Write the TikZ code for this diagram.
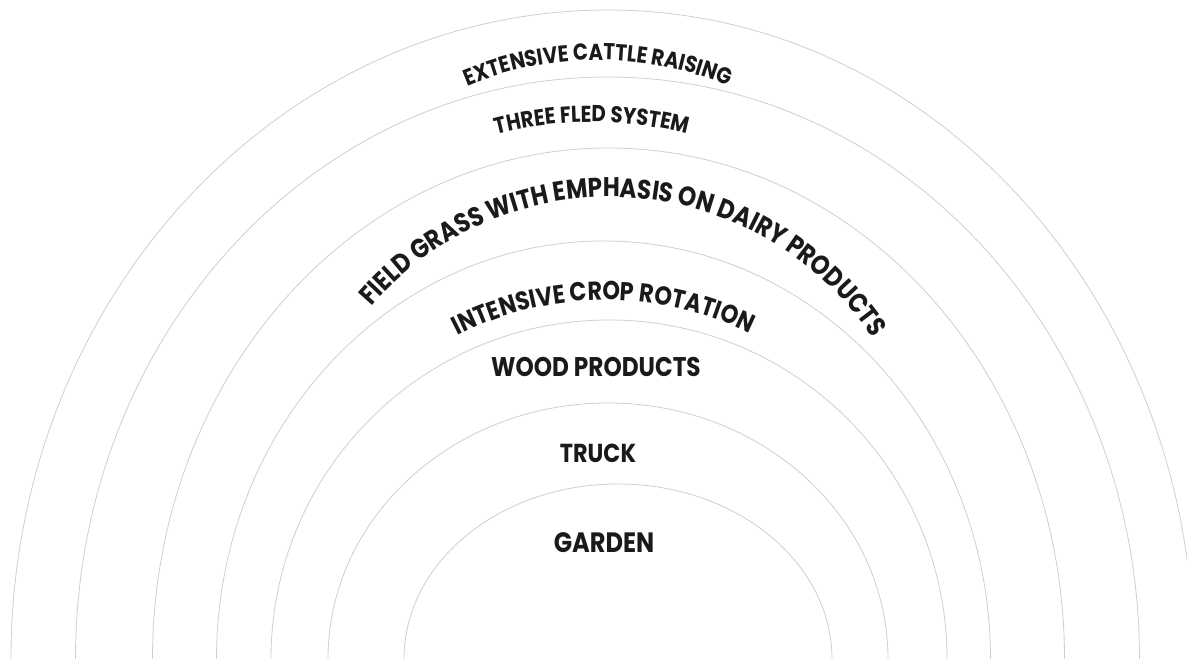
\documentclass[tikz,border=0pt]{standalone}
\usepackage{fontspec}
\setmainfont{Poppins}
\newfontfamily\labfam{Poppins}[FakeStretch=0.86]
\usetikzlibrary{decorations.text,calc}
\definecolor{ringgray}{HTML}{CFCFCF}
\definecolor{ink}{HTML}{1A1A1A}
\newcommand\labsize[1]{\labfam\bfseries\fontsize{#1}{#1}\selectfont}
\begin{document}
\begin{tikzpicture}[x=1pt,y=1pt,
  ring/.style={draw=ringgray, line width=0.8pt},
  flat/.style={anchor=base, text=ink, inner sep=0pt}]
\useasboundingbox (0,0) rectangle (1187,659);
\clip (0,0) rectangle (1187,659);
\fill[white] (0,0) rectangle (1187,659);
% rings (half ellipses standing on the bottom edge)
\draw[ring] (11,0)    arc[start angle=180,end angle=90,x radius=597,y radius=649]
                      arc[start angle=90,end angle=0,x radius=586,y radius=649];
\draw[ring] (75.5,0)  arc[start angle=180,end angle=0,x radius=532,y radius=582];
\draw[ring] (152.5,0) arc[start angle=180,end angle=0,x radius=456,y radius=511];
\draw[ring] (216.5,0) arc[start angle=180,end angle=0,x radius=387,y radius=418];
\draw[ring] (271,0)   arc[start angle=180,end angle=0,x radius=338,y radius=339];
\draw[ring] (328,0)   arc[start angle=180,end angle=0,x radius=280,y radius=256];
\draw[ring] (404,0)   arc[start angle=180,end angle=0,x radius=214,y radius=175];
% curved labels
\path[decorate, decoration={text along path, text align=center, text color=ink,
  text={|\labsize{23}|EXTENSIVE CATTLE RAISING}}]
  ($(598,259)+(113:340)$) arc[start angle=113,end angle=67,radius=340];
\path[decorate, decoration={text along path, text align=center, text color=ink,
  text={|\labsize{23}|THREE FLED SYSTEM}}]
  ($(592,157)+(105.1:380)$) arc[start angle=105.1,end angle=74.9,radius=380];
\path[decorate, decoration={text along path, text align=center, text color=ink,
  text={|\labsize{27}|FIELD GRASS WITH EMPHASIS ON DAIRY PRODUCTS}}]
  ($(610,147)+(139:315)$) arc[start angle=139,end angle=33.7,radius=315];
\path[decorate, decoration={text along path, text align=center, text color=ink,
  text={|\labsize{26}|INTENSIVE CROP ROTATION}}]
  ($(606,34)+(117.2:325)$) arc[start angle=117.2,end angle=63.8,radius=325];
% straight labels
\node[flat, font=\labsize{27}] (wood) at (596,282) {WOOD PRODUCTS};
\node[flat, font=\labsize{26}] (truck) at (598,196) {TRUCK};
\node[flat, font=\labsize{28}] (garden) at (604,106) {GARDEN};
\end{tikzpicture}
\end{document}
